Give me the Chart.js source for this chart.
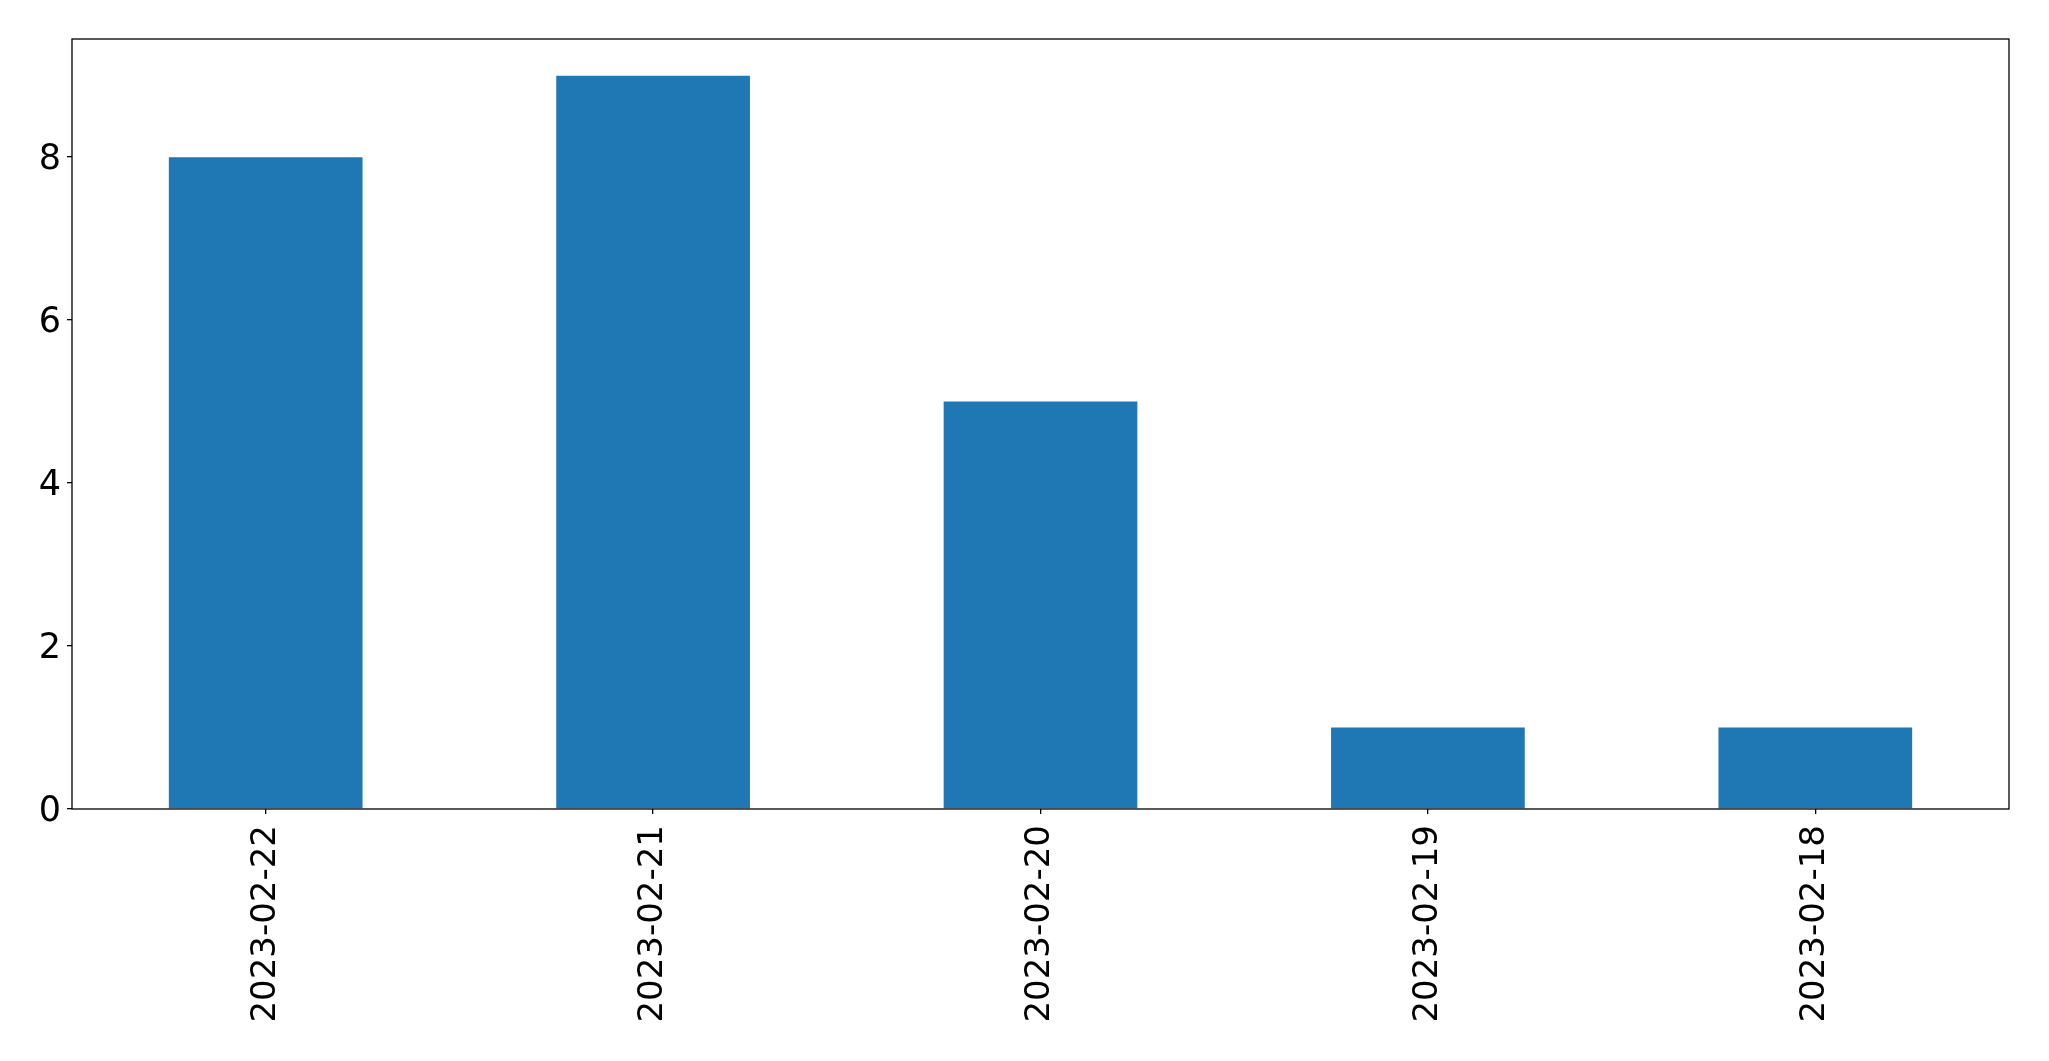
<!DOCTYPE html>
<html>
<head>
<meta charset="utf-8">
<script src="https://cdn.jsdelivr.net/npm/chart.js@4/dist/chart.umd.min.js"></script>
<style>
html,body{margin:0;padding:0;background:#fff;overflow:hidden;}
canvas{display:block;}
</style>
</head>
<body>
<canvas id="c" width="2049" height="1061"></canvas>
<script>
const categories = ["2023-02-22", "2023-02-21", "2023-02-20", "2023-02-19", "2023-02-18"];
const counts = [8, 9, 5, 1, 1];
const yTicks = [0, 2, 4, 6, 8];
const yMax = 9.45;

const FONT = '35px "DejaVu Sans"';

const frame = {
  id: 'frame',
  afterDraw(chart) {
    const a = chart.chartArea, ctx = chart.ctx;
    ctx.save();
    ctx.strokeStyle = '#000';
    ctx.lineWidth = 1.3;
    ctx.strokeRect(a.left, a.top, a.right - a.left, a.bottom - a.top);
    // y tick labels, placed through the y scale
    const ys = chart.scales.y;
    ctx.fillStyle = '#000';
    ctx.font = FONT;
    ctx.textAlign = 'right';
    ctx.textBaseline = 'middle';
    yTicks.forEach(v => {
      ctx.fillText(String(v), a.left - 11, ys.getPixelForValue(v) + 3);
    });
    ctx.restore();
  }
};

new Chart(document.getElementById('c'), {
  type: 'bar',
  data: {
    labels: categories,
    datasets: [{
      data: counts,
      backgroundColor: '#1f77b4',
      borderWidth: 0,
      barPercentage: 0.5,
      categoryPercentage: 1.0
    }]
  },
  options: {
    responsive: false,
    animation: false,
    devicePixelRatio: 1,
    layout: { padding: { left: 0, top: 39, right: 40, bottom: 0 } },
    plugins: { legend: { display: false }, tooltip: { enabled: false } },
    scales: {
      x: {
        afterFit(s) { s.height = 252; },
        grid: { display: true, drawOnChartArea: false, color: '#000', lineWidth: 1.3, tickLength: 5, offset: false },
        border: { display: false },
        ticks: {
          minRotation: 90, maxRotation: 90, autoSkip: false,
          padding: 11,
          color: '#000',
          font: { family: 'DejaVu Sans', size: 34 }
        }
      },
      y: {
        min: 0, max: yMax,
        afterFit(s) { s.width = 72; },
        afterBuildTicks(s) { s.ticks = yTicks.map(v => ({ value: v })); },
        grid: { display: true, drawOnChartArea: false, color: '#000', lineWidth: 1.3, tickLength: 5 },
        border: { display: false },
        ticks: {
          padding: 6,
          color: 'rgba(0,0,0,0)',
          font: { family: 'DejaVu Sans', size: 35 }
        }
      }
    }
  },
  plugins: [frame]
});
</script>
</body>
</html>
